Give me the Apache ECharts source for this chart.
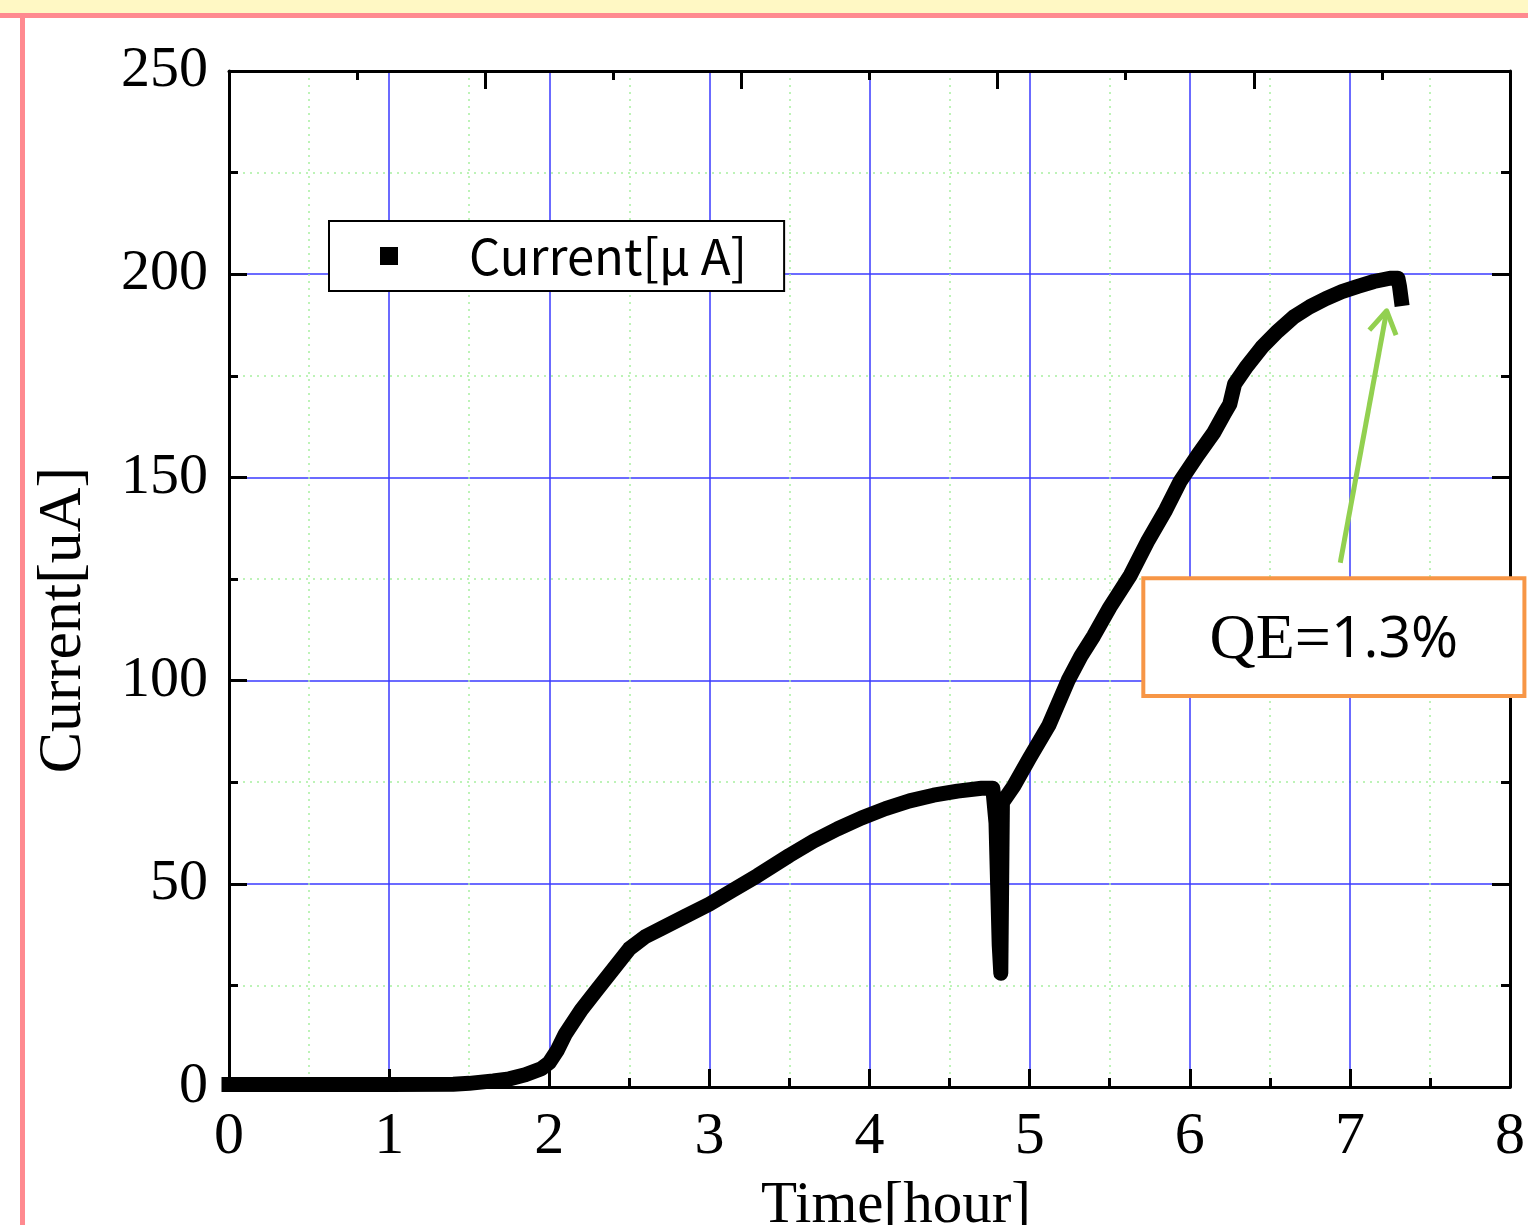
<!DOCTYPE html>
<html>
<head>
<meta charset="utf-8">
<script src="https://cdn.jsdelivr.net/npm/echarts@6/dist/echarts.min.js"></script>
<style>
  html, body { margin: 0; padding: 0; background: #fff; }
  #chart { width: 1528px; height: 1225px; }
</style>
</head>
<body>
<div id="chart"></div>
<script>
// time in hours, current in uA
const times = [0, 0.5, 1.0, 1.4, 1.5, 1.65, 1.75, 1.85, 1.95, 2.0, 2.05, 2.1, 2.2, 2.3, 2.4, 2.5, 2.6,
  2.7, 2.85, 3.0, 3.15, 3.3, 3.5, 3.65, 3.8, 3.95, 4.1, 4.25, 4.4, 4.55, 4.7, 4.77, 4.79, 4.80, 4.81,
  4.82, 4.83, 4.9, 5.0, 5.12, 5.24, 5.32, 5.4, 5.5, 5.63, 5.74, 5.85, 5.94, 6.05, 6.15, 6.22, 6.25,
  6.28, 6.35, 6.45, 6.55, 6.65, 6.75, 6.85, 6.95, 7.05, 7.15, 7.25, 7.3, 7.31, 7.32];
const current = [0.6, 0.6, 0.6, 0.7, 0.9, 1.5, 2, 3, 4.5, 6, 9, 13, 19, 24, 29, 34, 37,
  39, 42, 45, 48.5, 52, 57, 60.5, 63.5, 66.2, 68.5, 70.4, 71.8, 72.8, 73.5, 73.5, 65, 50, 35,
  28, 70, 74, 81, 89, 100, 106, 111, 118, 126, 134.5, 142, 149, 155.5, 161, 166, 168,
  173, 177, 182, 186, 189.5, 192, 194, 195.7, 197, 198.2, 199, 199, 197, 194];
const xTicks = [0, 1, 2, 3, 4, 5, 6, 7, 8];
const yTicks = [0, 50, 100, 150, 200, 250];
const seriesName = 'Current[μ A]';

// annotation anchors in data coordinates
const arrowFrom = [6.94, 129];
const arrowTo = [7.23, 191];
const boxCorner1 = [5.71, 125.2];
const boxCorner2 = [8.09, 96.2];

const serif = '"Times New Roman", "Liberation Serif", serif';
const blue = '#3a3aff';
const green = '#a8f0a0';

const chart = echarts.init(document.getElementById('chart'));

const tickStyle = { color: '#000', width: 3 };

function frameAxis(extra) {
  return Object.assign({
    type: 'value',
    axisLine: { show: true, onZero: false, lineStyle: tickStyle },
    axisTick: { show: true, inside: true, length: 18, lineStyle: tickStyle },
    minorTick: { show: true, splitNumber: 2, length: 9, lineStyle: tickStyle },
    splitLine: { show: false },
    minorSplitLine: { show: false },
    axisLabel: { show: false }
  }, extra);
}

chart.setOption({
  animation: false,
  grid: { left: 229, top: 71, width: 1281, height: 1016 },
  legend: {
    left: 329, top: 221,
    selectedMode: false,
    icon: 'rect',
    itemWidth: 18, itemHeight: 18,
    padding: [10, 37, 10, 51],
    borderColor: '#000', borderWidth: 2, borderRadius: 0,
    backgroundColor: '#fff',
    itemStyle: { color: '#000' },
    textStyle: {
      fontFamily: '"Noto Sans CJK JP", sans-serif', fontSize: 49, lineHeight: 50,
      color: '#000', padding: [0, 0, 0, 66]
    },
    data: [seriesName]
  },
  xAxis: [
    frameAxis({
      min: 0, max: 8, interval: 1, position: 'bottom',
      splitLine: { show: true, lineStyle: { color: blue, width: 1.5 } },
      minorSplitLine: { show: true, lineStyle: { color: green, width: 1.5, type: [2, 5] } },
      axisLabel: {
        show: true, margin: 20, fontFamily: serif, fontSize: 60, color: '#000',
        formatter: v => xTicks.includes(v) ? String(v) : ''
      }
    }),
    // top frame axis has its own tick spacing in the original plot
    frameAxis({ min: 0, max: 8, interval: 1.6, position: 'top' })
  ],
  yAxis: [
    frameAxis({
      min: 0, max: 250, interval: 50, position: 'left',
      splitLine: { show: true, lineStyle: { color: blue, width: 1.5 } },
      minorSplitLine: { show: true, lineStyle: { color: green, width: 1.5, type: [2, 5] } },
      axisLabel: {
        show: true, margin: 21, fontFamily: serif, fontSize: 58, color: '#000',
        formatter: v => yTicks.includes(v) ? String(v) : ''
      }
    }),
    frameAxis({ min: 0, max: 250, interval: 50, position: 'right' })
  ],
  series: [
    {
      name: seriesName,
      type: 'line',
      z: 3,
      data: times.map((t, i) => [t, current[i]]),
      showSymbol: false,
      symbol: 'rect',
      clip: false,
      lineStyle: { color: '#000', width: 15, cap: 'square', join: 'round' },
      itemStyle: { color: '#000' },
      emphasis: { disabled: true }
    }
  ]
});

const p1 = chart.convertToPixel({ gridIndex: 0 }, arrowFrom);
const p2 = chart.convertToPixel({ gridIndex: 0 }, arrowTo);
const b1 = chart.convertToPixel({ gridIndex: 0 }, boxCorner1);
const b2 = chart.convertToPixel({ gridIndex: 0 }, boxCorner2);

// open arrow head
const ang = Math.atan2(p2[1] - p1[1], p2[0] - p1[0]);
const headLen = 26, headAng = 0.55;
const h1 = [p2[0] - headLen * Math.cos(ang - headAng), p2[1] - headLen * Math.sin(ang - headAng)];
const h2 = [p2[0] - headLen * Math.cos(ang + headAng), p2[1] - headLen * Math.sin(ang + headAng)];

chart.setOption({
  graphic: [
    // slide frame
    { type: 'rect', shape: { x: 0, y: 0, width: 1528, height: 13 }, style: { fill: '#fff8c4' }, silent: true },
    { type: 'rect', shape: { x: 0, y: 13, width: 1528, height: 5 }, style: { fill: '#ff8a90' }, silent: true },
    { type: 'rect', shape: { x: 20, y: 13, width: 5, height: 1212 }, style: { fill: '#ff8a90' }, silent: true },
    // axis titles
    {
      type: 'text', x: 896, y: 1206,
      style: { text: 'Time[hour]', font: '59px ' + serif, fill: '#000', align: 'center', verticalAlign: 'middle' }
    },
    {
      type: 'text', x: 64, y: 620, rotation: Math.PI / 2,
      style: { text: 'Current[uA]', font: '62px ' + serif, fill: '#000', align: 'center', verticalAlign: 'middle' }
    },
    // arrow
    {
      type: 'line', z: 100,
      shape: { x1: p1[0], y1: p1[1], x2: p2[0], y2: p2[1] },
      style: { stroke: '#92d050', lineWidth: 5 }
    },
    {
      type: 'polyline', z: 100,
      shape: { points: [h1, p2, h2] },
      style: { stroke: '#92d050', lineWidth: 5, fill: null, lineJoin: 'round' }
    },
    // QE box
    {
      type: 'rect', z: 100,
      shape: { x: b1[0], y: b1[1], width: b2[0] - b1[0], height: b2[1] - b1[1] },
      style: { fill: '#fff', stroke: '#f79646', lineWidth: 4 }
    },
    {
      type: 'text', z: 101,
      x: (b1[0] + b2[0]) / 2, y: (b1[1] + b2[1]) / 2 + 4,
      style: {
        text: '{a|QE=}{b|1.3%}',
        align: 'center', verticalAlign: 'middle',
        rich: {
          a: { fontFamily: serif, fontSize: 64, fill: '#000' },
          b: { fontFamily: '"Open Sans", "Noto Sans", sans-serif', fontSize: 57, fill: '#000' }
        }
      }
    }
  ]
});
</script>
</body>
</html>
